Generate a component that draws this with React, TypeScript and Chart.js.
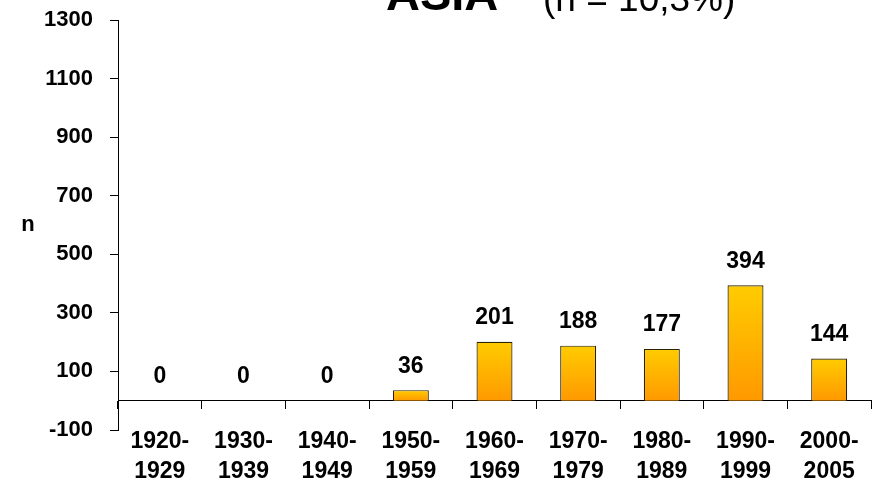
import React, { useEffect, useRef } from "react";
import { Chart, registerables } from "chart.js";

Chart.register(...registerables);

const categories: string[][] = [
  ["1920-", "1929"],
  ["1930-", "1939"],
  ["1940-", "1949"],
  ["1950-", "1959"],
  ["1960-", "1969"],
  ["1970-", "1979"],
  ["1980-", "1989"],
  ["1990-", "1999"],
  ["2000-", "2005"],
];
const counts: number[] = [0, 0, 0, 36, 201, 188, 177, 394, 144];
const titleMain = "ASIA";
const titleSub = "(n = 10,3%)";
const yTitle = "n";
const yMin = -100;
const yMax = 1300;
const yStep = 200;

const FONT = "Arial, 'Liberation Sans', Helvetica, sans-serif";
const TOP_COLOR = "#FFCC00";
const BOTTOM_COLOR = "#FF9900";

const titlePlugin = {
  id: "customTitle",
  afterDraw(chart: any) {
    const ctx = chart.ctx;
    ctx.save();
    ctx.fillStyle = "#000";
    ctx.textBaseline = "alphabetic";
    ctx.textAlign = "left";
    ctx.font = `bold 47px ${FONT}`;
    ctx.fillText(titleMain, 386, 10);
    ctx.font = `37px ${FONT}`;
    ctx.fillText(titleSub, 543, 11);
    ctx.restore();
  },
};

const yTitlePlugin = {
  id: "yTitleHorizontal",
  afterDraw(chart: any) {
    const ctx = chart.ctx;
    const area = chart.chartArea;
    ctx.save();
    ctx.fillStyle = "#000";
    ctx.font = `bold 22px ${FONT}`;
    ctx.textAlign = "center";
    ctx.textBaseline = "middle";
    ctx.fillText(yTitle, 28, (area.top + area.bottom) / 2);
    ctx.restore();
  },
};

const valueLabelPlugin = {
  id: "valueLabels",
  afterDatasetsDraw(chart: any) {
    const ctx = chart.ctx;
    const meta = chart.getDatasetMeta(0);
    const data = chart.data.datasets[0].data;
    ctx.save();
    ctx.fillStyle = "#000";
    ctx.font = `bold 23px ${FONT}`;
    ctx.textAlign = "center";
    ctx.textBaseline = "middle";
    meta.data.forEach((bar: any, i: number) => {
      ctx.fillText(String(data[i]), bar.x, bar.y - 24);
    });
    ctx.restore();
  },
};

export default function App() {
  const ref = useRef<HTMLCanvasElement | null>(null);

  useEffect(() => {
    document.body.style.margin = "0";
    const canvas = ref.current;
    if (!canvas) return;
    const chart = new Chart(canvas, {
      type: "bar",
      data: {
        labels: categories,
        datasets: [
          {
            data: counts,
            backgroundColor: (c: any) => {
              const ch = c.chart;
              if (!ch.chartArea || c.type !== "data") return TOP_COLOR;
              const ys = ch.scales.y;
              const v = c.raw as number;
              const top = ys.getPixelForValue(v);
              const bottom = ys.getPixelForValue(0);
              if (Math.abs(bottom - top) < 1) return TOP_COLOR;
              const g = ch.ctx.createLinearGradient(0, top, 0, bottom);
              g.addColorStop(0, TOP_COLOR);
              g.addColorStop(1, BOTTOM_COLOR);
              return g;
            },
            borderColor: "#2a2200",
            borderWidth: 1.2,
            borderSkipped: "bottom",
            barPercentage: 0.43,
            categoryPercentage: 1,
          },
        ],
      },
      options: {
        responsive: false,
        animation: false,
        layout: { padding: { top: 20, right: 9, bottom: 0, left: 0 } },
        plugins: {
          legend: { display: false },
          title: { display: false },
          tooltip: { enabled: false },
        },
        scales: {
          x: {
            type: "category",
            position: "bottom",
            grid: { display: false },
            border: { display: false },
            ticks: {
              color: "#000",
              font: { family: FONT, size: 23, weight: "bold", lineHeight: 1.3 },
              padding: -11,
              maxRotation: 0,
              autoSkip: false,
            },
            afterFit: (s: any) => {
              s.height = 52;
              s.paddingTop = 0;
              s.paddingBottom = 0;
              s.paddingLeft = 0;
              s.paddingRight = 0;
            },
          },
          x2: {
            type: "category",
            position: { y: 0 },
            offset: true,
            grid: {
              display: true,
              offset: true,
              drawOnChartArea: false,
              drawTicks: true,
              tickLength: 8,
              color: "#000",
              lineWidth: 1,
            },
            border: { display: true, color: "#000", width: 1 },
            ticks: { display: false },
            afterFit: (s: any) => {
              s.paddingTop = 0;
              s.paddingBottom = 0;
              s.paddingLeft = 0;
              s.paddingRight = 0;
            },
          },
          y: {
            min: yMin,
            max: yMax,
            ticks: {
              stepSize: yStep,
              color: "#000",
              font: { family: FONT, size: 22, weight: "bold" },
              padding: 17,
              callback: (v: any) => String(v),
            },
            grid: {
              display: true,
              drawOnChartArea: false,
              drawTicks: true,
              tickLength: 8,
              color: "#000",
              lineWidth: 1,
            },
            border: { display: true, color: "#000", width: 1 },
            afterFit: (s: any) => {
              s.width = 118;
              s.paddingTop = 0;
              s.paddingBottom = 0;
            },
          },
        },
      } as any,
      plugins: [titlePlugin, yTitlePlugin, valueLabelPlugin],
    });
    return () => chart.destroy();
  }, []);

  return <canvas ref={ref} width={880} height={482} style={{ display: "block" }} />;
}
